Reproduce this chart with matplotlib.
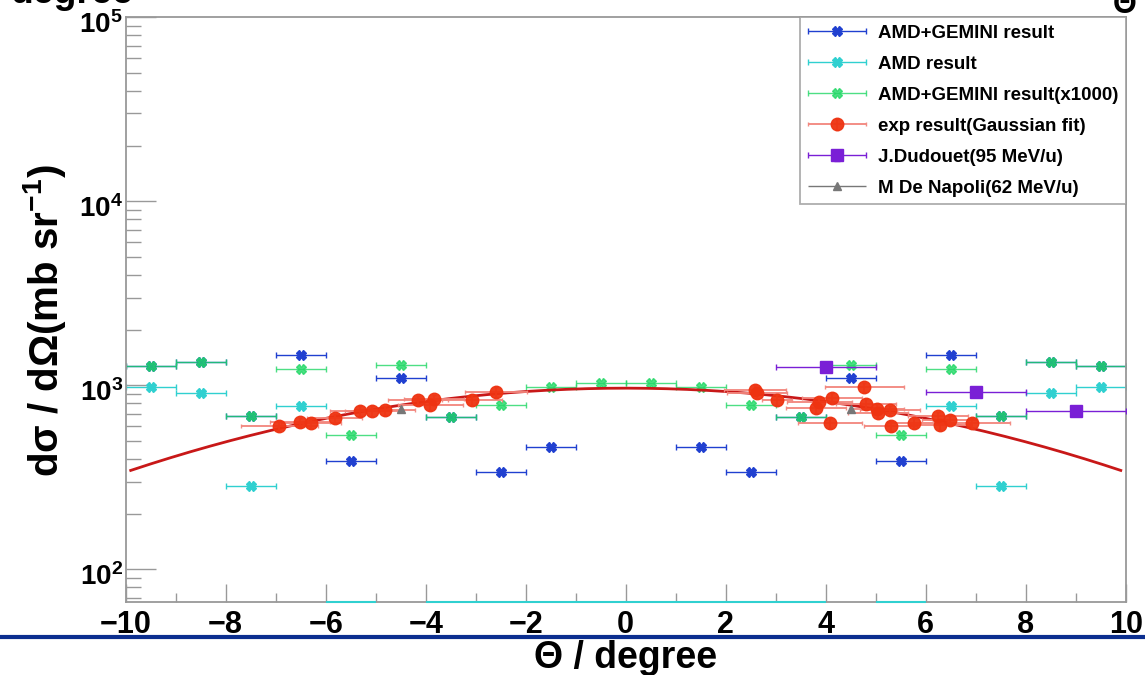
import numpy as np
import matplotlib
matplotlib.use("Agg")
import matplotlib.pyplot as plt
from matplotlib.lines import Line2D
from matplotlib.transforms import ScaledTranslation
from matplotlib.legend_handler import HandlerErrorbar
from matplotlib.ticker import LogLocator, FixedLocator, FixedFormatter, MultipleLocator, NullFormatter

plt.rcParams['font.family'] = ['Liberation Sans', 'DejaVu Sans']
plt.rcParams['font.weight'] = 'bold'
plt.rcParams['axes.labelweight'] = 'bold'
plt.rcParams['mathtext.fontset'] = 'custom'
plt.rcParams['mathtext.rm'] = 'Liberation Sans:bold'
plt.rcParams['mathtext.bf'] = 'Liberation Sans:bold'
plt.rcParams['mathtext.default'] = 'bf'

# theory bins (half width 0.5 deg)
theta_th = [-9.5, -8.5, -7.5, -6.5, -5.5, -4.5, -3.5, -2.5, -1.5, -0.5,
            0.5, 1.5, 2.5, 3.5, 4.5, 5.5, 6.5, 7.5, 8.5, 9.5]
amd_gemini = [1278, 1334, 684, 1461, 388, 1091, 673, 337, 460, np.nan,
              np.nan, 460, 337, 673, 1091, 388, 1461, 684, 1334, 1278]
amd_only = [983, 905, 285, 770, 0, np.nan, 0, 0, 0, 0,
            0, 0, 0, 0, np.nan, 0, 770, 285, 905, 983]
amd_gemini_x1000 = [1278, 1334, 684, 1226, 537, 1290, 673, 782, 983, 1025,
                    1025, 983, 782, 673, 1290, 537, 1226, 684, 1334, 1278]

# measured points
theta_exp = [-6.93, -6.51, -6.30, -5.82, -5.31, -5.07, -4.82, -4.15, -3.91, -3.83,
             -3.08, -2.59, 2.59, 2.62, 3.03, 3.81, 3.87, 4.09, 4.13, 4.77,
             4.80, 5.02, 5.05, 5.28, 5.30, 5.77, 6.24, 6.29, 6.48, 6.93]
xs_exp = [603, 630, 622, 662, 727, 727, 730, 830, 785, 840,
          835, 920, 943, 905, 835, 750, 815, 624, 853, 975,
          795, 746, 710, 730, 602, 624, 678, 609, 644, 625]
theta_exp_err = [0.77, 0.6, 0.6, 0.55, 0.6, 0.55, 0.6, 0.6, 0.65, 0.6,
                 0.6, 0.62, 0.62, 0.6, 0.3, 0.6, 0.65, 0.64, 0.6, 0.79,
                 0.6, 0.55, 0.6, 0.6, 0.53, 0.55, 0.6, 0.6, 0.55, 0.75]

theta_dud = [4.0, 7.0, 9.0]
xs_dud = [1262, 916, 723]

theta_nap = [-4.5, 4.5]
xs_nap = [743, 745]

# Gaussian fit to exp points
fit_amp, fit_mean, fit_sigma = 965.0, 0.0, 6.9

blue = '#2040d0'
cyan = '#30d0d0'
green = '#22d866'
red = '#ee3311'
purple = '#7a1fd6'

fig = plt.figure(figsize=(11.45, 6.75), dpi=100)
ax = fig.add_axes([0.1098, 0.1086, 0.8734, 0.8658])
ax.set_yscale('log')
ax.set_xlim(-10, 10)
ax.set_ylim(66.7, 1e5)

eb = dict(xerr=0.5, linestyle='none', ms=7, elinewidth=1, capsize=2, capthick=1)
h_blue = ax.errorbar(theta_th, amd_gemini, fmt='X', color=blue, label='AMD+GEMINI result', **eb)
amd_arr = np.array(amd_only, dtype=float)
amd_plot = np.where(amd_arr > 0, amd_arr, np.nan)
h_cyan = ax.errorbar(theta_th, amd_plot, fmt='X', color=cyan, label='AMD result', **eb)
# zero-valued AMD bins sit on the lower frame
th = np.array(theta_th)
zero = amd_arr == 0
ax.hlines(np.full(zero.sum(), ax.get_ylim()[0]), th[zero] - 0.5, th[zero] + 0.5,
          color=cyan, lw=1.5, clip_on=False, zorder=3)
h_green = ax.errorbar(theta_th, amd_gemini_x1000, fmt='X', color=green, alpha=0.8,
                      label='AMD+GEMINI result(x1000)', **eb)

tt = np.linspace(-9.9, 9.9, 300)
ax.plot(tt, fit_amp * np.exp(-0.5 * ((tt - fit_mean) / fit_sigma) ** 2),
        color='#c81818', lw=2, zorder=4)

h_red = ax.errorbar(theta_exp, xs_exp, xerr=theta_exp_err, yerr=0.06 * np.array(xs_exp),
                    fmt='o', color=red, ms=9, ecolor='#f2877e', elinewidth=1.4,
                    capsize=1.5, alpha=0.95, zorder=5, label='exp result(Gaussian fit)')
h_dud = ax.errorbar(theta_dud, xs_dud, xerr=1.0, yerr=0.04 * np.array(xs_dud), fmt='s',
                    color=purple, ms=8, elinewidth=1, capsize=2, zorder=6,
                    label='J.Dudouet(95 MeV/u)')
h_nap = ax.errorbar(theta_nap, xs_nap, xerr=0.0, fmt='^', color='#777777', ms=6,
                    elinewidth=1, zorder=6, label='M De Napoli(62 MeV/u)')

# axes styling
frame = '#999999'
for s in ax.spines.values():
    s.set_color(frame)
    s.set_linewidth(1.3)
ax.xaxis.set_major_locator(MultipleLocator(2))
ax.xaxis.set_minor_locator(MultipleLocator(1))
ax.yaxis.set_major_locator(FixedLocator([1e2, 1e3, 1e4, 1e5]))
ax.yaxis.set_major_formatter(FixedFormatter([r'$10^{2}$', r'$10^{3}$', r'$10^{4}$', r'$10^{5}$']))
ax.yaxis.set_minor_locator(LogLocator(base=10, subs=range(2, 10), numticks=20))
ax.yaxis.set_minor_formatter(NullFormatter())
ax.tick_params(axis='x', which='major', direction='in', length=13, width=1, color=frame,
               labelsize=22, pad=6)
ax.tick_params(axis='x', which='minor', direction='in', length=6.5, width=1, color=frame)
ax.tick_params(axis='y', which='major', direction='in', length=21.5, width=1, color=frame,
               labelsize=20, pad=2)
ax.tick_params(axis='y', which='minor', direction='in', length=11, width=1, color=frame)
# decade labels sit a little below their ticks
shift = ScaledTranslation(0, -5 / 100, fig.dpi_scale_trans)
for lab in ax.get_yticklabels():
    lab.set_transform(lab.get_transform() + shift)

ax.set_xlabel('Θ / degree', fontsize=27, fontweight='bold', va='center')
ax.xaxis.set_label_coords(0.5, -0.096)
ax.set_ylabel('dσ / dΩ(mb sr$^{-1}$)', fontsize=29, fontweight='bold', va='center')
ax.yaxis.set_label_coords(-0.081, 0.48)

leg = ax.legend(handles=[h_blue, h_cyan, h_green, h_red, h_dud, h_nap],
                loc='upper right', bbox_to_anchor=(1.0, 1.0), borderaxespad=0,
                fontsize=13.5, frameon=True, fancybox=False, edgecolor=frame,
                handlelength=3.1, handletextpad=0.65, labelspacing=0.74,
                borderpad=0.4, handler_map={type(h_blue): HandlerErrorbar(xerr_size=1.55, yerr_size=0.3)})
leg.get_frame().set_linewidth(1.3)

# neighbouring panel remnants and separator rule
fig.text(10 / 1145, 1 - 3 / 675, 'degree', fontsize=27, va='baseline', ha='left')
fig.text(1125 / 1145, 1 - 13 / 675, 'Θ', fontsize=22, va='baseline', ha='center')
fig.add_artist(Line2D([0, 1], [0.0563, 0.0563], transform=fig.transFigure,
                      color='#0b2e8f', lw=3))

fig.savefig('out.png', dpi=100)
